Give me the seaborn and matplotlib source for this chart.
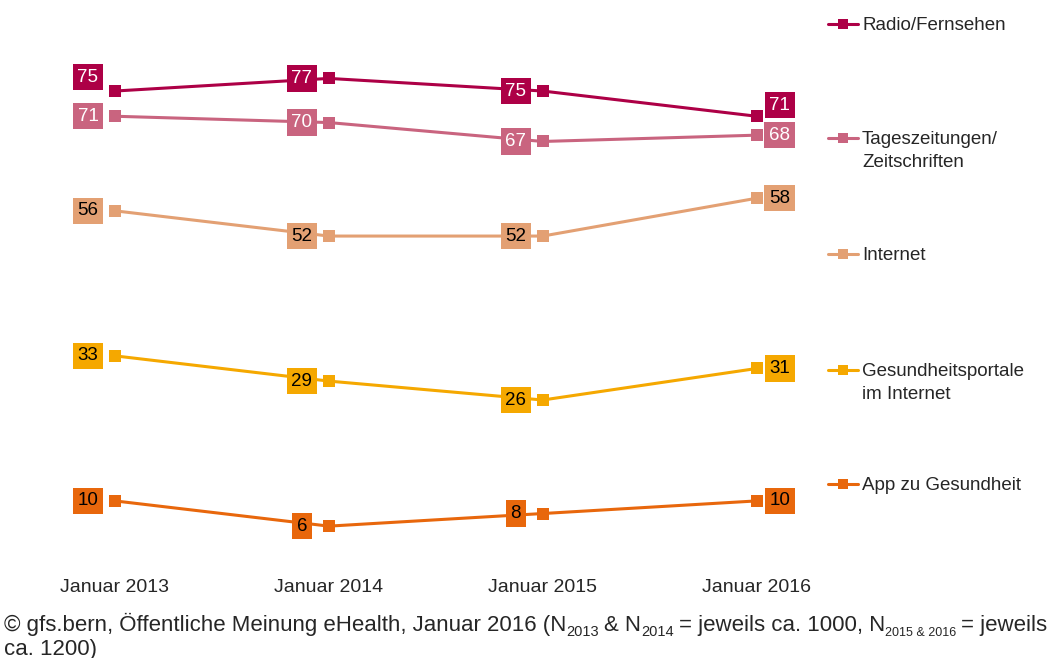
import matplotlib
matplotlib.use("Agg")
import matplotlib.pyplot as plt
from matplotlib.lines import Line2D
import seaborn as sns
import pandas as pd

# Daten
years = ["Januar 2013", "Januar 2014", "Januar 2015", "Januar 2016"]
radio = [75, 77, 75, 71]
zeitungen = [71, 70, 67, 68]
internet = [56, 52, 52, 58]
portale = [33, 29, 26, 31]
app = [10, 6, 8, 10]

series = ["Radio/Fernsehen", "Tageszeitungen/\nZeitschriften", "Internet",
          "Gesundheitsportale\nim Internet", "App zu Gesundheit"]
colors = ["#AD0046", "#C9647F", "#E3A073", "#F5A800", "#E8670C"]
text_colors = ["white", "white", "black", "black", "black"]

values = [radio, zeitungen, internet, portale, app]
rows = []
for name, vals in zip(series, values):
    for i, v in enumerate(vals):
        rows.append({"jahr": i, "wert": v, "serie": name})
df = pd.DataFrame(rows)

sns.set_theme(style="white")
plt.rcParams["font.family"] = ["Liberation Sans", "DejaVu Sans"]

fig = plt.figure(figsize=(10.58, 6.58), dpi=100)
ax = fig.add_axes([0.0278, 0.1429, 0.748, 0.8146])

sns.lineplot(data=df, x="jahr", y="wert", hue="serie", palette=colors,
             hue_order=series, marker="s", markersize=8.5, markeredgewidth=0,
             linewidth=2.2, legend=False, ax=ax)

ax.set_xlim(-0.4, 3.3)
ax.set_ylim(0, 85)
for s in ax.spines.values():
    s.set_visible(False)
ax.set_yticks([])
ax.set_xticks(range(len(years)))
ax.set_xticklabels(years, fontsize=14)
ax.tick_params(axis="x", length=0, pad=11)
ax.set_xlabel("")
ax.set_ylabel("")

# Datenbeschriftungen
for k, vals in enumerate(values):
    for i, v in enumerate(vals):
        dx = 23 if i == 3 else -27
        dy = 0
        if k == 0 and i == 0:
            dy = 14
        elif k == 0 and i == 3:
            dy = 11
        ax.annotate(str(v), (i, v), xytext=(dx * 0.72, dy * 0.72),
                    textcoords="offset points", ha="center", va="center",
                    fontsize=13.5, color=text_colors[k],
                    bbox=dict(boxstyle="square,pad=0.25", fc=colors[k], ec="none"))

# Legende
leg_y = [24, 138, 254, 370, 484]
for name, c, y in zip(series, colors, leg_y):
    yf = 1 - y / 658
    fig.add_artist(Line2D([828 / 1058, 858 / 1058], [yf, yf], color=c, lw=2.2,
                          transform=fig.transFigure))
    fig.add_artist(Line2D([843 / 1058], [yf], color=c, marker="s", markersize=7,
                          markeredgewidth=0, transform=fig.transFigure))
    fig.text(862 / 1058, yf + 7 / 658, name, ha="left", va="top", fontsize=13.5,
             linespacing=1.45)

# Quelle (Tiefstellungen als eigene Textstücke)
fig.canvas.draw()
renderer = fig.canvas.get_renderer()
W = fig.bbox.width
base_y = 1 - 631 / 658
gap = 5 / W
pieces = [
    ("© gfs.bern, Öffentliche Meinung eHealth, Januar 2016 (N", 16, False, 0),
    ("2013", 10.5, True, gap),
    ("& N", 16, False, 0),
    ("2014", 10.5, True, gap),
    ("= jeweils ca. 1000, N", 16, False, 0),
    ("2015 & 2016", 9, True, gap),
    ("= jeweils", 16, False, 0),
]
x = 4 / W
for txt, size, sub, after in pieces:
    y = base_y - (5 / 658 if sub else 0)
    t = fig.text(x, y, txt, fontsize=size, ha="left", va="baseline")
    bb = t.get_window_extent(renderer)
    x = bb.x1 / W + after
fig.text(4 / W, 1 - 655 / 658, "ca. 1200)", ha="left", va="baseline", fontsize=16)

fig.savefig("out.png", dpi=100)
